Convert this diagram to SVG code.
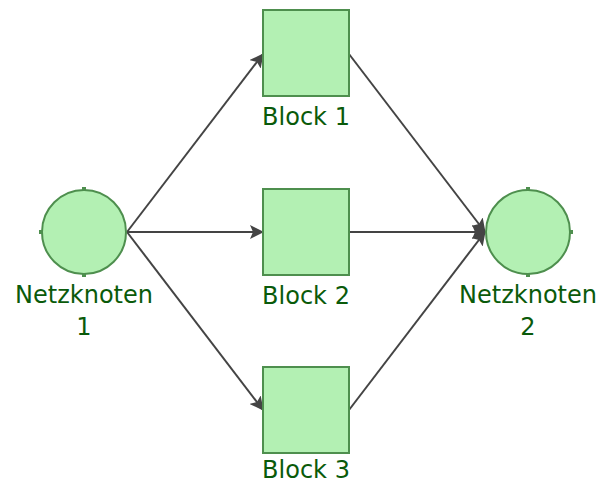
<svg xmlns="http://www.w3.org/2000/svg" width="601" height="483" viewBox="0 0 601 483">
  <style>
    .node { fill: #b3f0b3; stroke: #4e8f4e; stroke-width: 2; }
    .port { fill: #4e8f4e; }
    .label { font-family: "DejaVu Sans", Verdana, sans-serif; font-size: 24px; fill: #0a5a0a; text-anchor: middle; }
    .edge { stroke: #444; stroke-width: 2; fill: none; marker-end: url(#arrow); }
  </style>
  <defs>
    <marker id="arrow" viewBox="0 0 14 14" refX="13" refY="7" markerWidth="14" markerHeight="14" markerUnits="userSpaceOnUse" orient="auto">
      <path d="M0,0 L14,7 L0,14 L3,7 Z" fill="#444"/>
    </marker>
  </defs>

  <g id="connectors">
    <line class="edge" x1="127" y1="232" x2="263" y2="54"/>
    <line class="edge" x1="127" y1="232" x2="263" y2="232"/>
    <line class="edge" x1="127" y1="232" x2="263" y2="410"/>
    <line class="edge" x1="349" y1="54" x2="485" y2="232"/>
    <line class="edge" x1="349" y1="232" x2="485" y2="232"/>
    <line class="edge" x1="349" y1="410" x2="485" y2="232"/>
  </g>

  <g id="netzknoten1">
    <circle class="node" cx="84" cy="232" r="42"/>
    <rect class="port" x="82" y="187" width="4" height="3"/>
    <rect class="port" x="82" y="274" width="4" height="3"/>
    <rect class="port" x="39" y="230" width="3" height="4"/>
    <text class="label" x="84" y="303">Netzknoten</text>
    <text class="label" x="84" y="335">1</text>
  </g>

  <g id="block1">
    <rect class="node" x="263" y="10" width="86" height="86"/>
    <text class="label" x="306" y="125">Block 1</text>
  </g>

  <g id="block2">
    <rect class="node" x="263" y="189" width="86" height="86"/>
    <text class="label" x="306" y="304">Block 2</text>
  </g>

  <g id="block3">
    <rect class="node" x="263" y="367" width="86" height="86"/>
    <text class="label" x="306" y="478">Block 3</text>
  </g>

  <g id="netzknoten2">
    <circle class="node" cx="528" cy="232" r="42"/>
    <rect class="port" x="526" y="187" width="4" height="3"/>
    <rect class="port" x="526" y="274" width="4" height="3"/>
    <rect class="port" x="570" y="230" width="3" height="4"/>
    <text class="label" x="528" y="303">Netzknoten</text>
    <text class="label" x="528" y="335">2</text>
  </g>
</svg>
